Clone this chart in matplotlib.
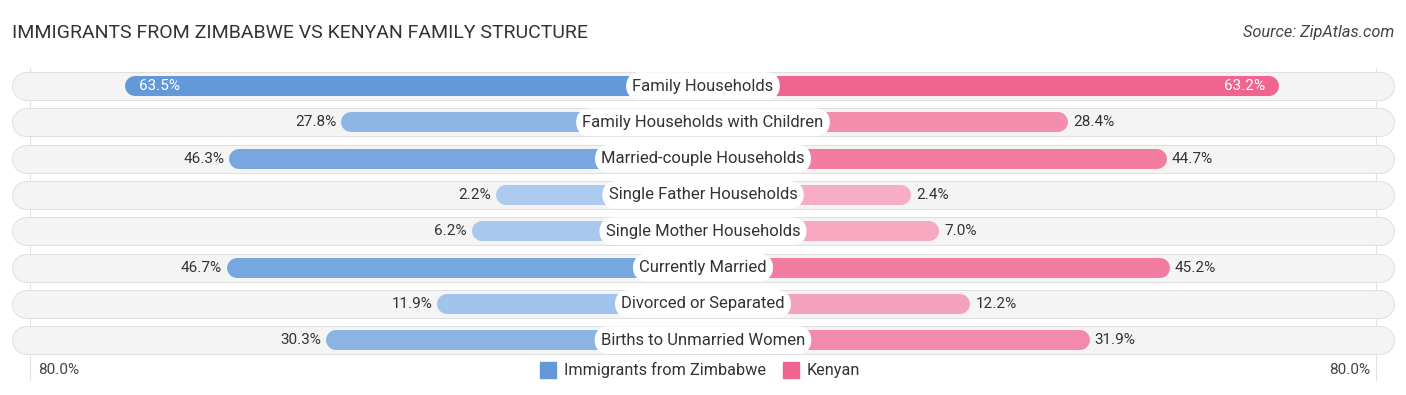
import matplotlib.pyplot as plt
import numpy as np

categories = ["Family Households", "Family Households with Children", "Married-couple Households",
              "Single Father Households", "Single Mother Households", "Currently Married",
              "Divorced or Separated", "Births to Unmarried Women"]
zimbabwe = [63.5, 27.8, 46.3, 2.2, 6.2, 46.7, 11.9, 30.3]
kenyan = [63.2, 28.4, 44.7, 2.4, 7.0, 45.2, 12.2, 31.9]
series_names = ["Immigrants from Zimbabwe", "Kenyan"]
axis_max = 80.0

plt.rcParams['font.family'] = ['Roboto', 'DejaVu Sans']

W, H, DPI = 1406, 395, 100
px = 6.05          # pixels per percent
offset = 32.0      # fixed bar part behind the centre label (in % units)
cx = 703
row0, row_step = 86, 36.3

fig = plt.figure(figsize=(W / DPI, H / DPI), dpi=DPI)
ax = fig.add_axes([0, 0, 1, 1])
ax.set_xlim(-cx / px, (W - cx) / px)
ax.set_ylim((H - row0) / row_step, -row0 / row_step)
ax.axis('off')

pt = 72 / DPI  # points per pixel
rad = 10 / px  # bar cap radius in data units

def mix(c1, c2, t):
    c1 = np.array(plt.matplotlib.colors.to_rgb(c1))
    c2 = np.array(plt.matplotlib.colors.to_rgb(c2))
    return tuple(c1 + (c2 - c1) * t)

blue_dark, blue_light = '#6399d9', '#b0cdef'
pink_dark, pink_light = '#f06590', '#f7b0c6'
vmax = max(max(zimbabwe), max(kenyan))

# faint guide lines at +-80%
for s in (-1, 1):
    ax.plot([s * (axis_max + offset - 0.8)] * 2, [-0.5, 8.1], color='#e2e2e2', lw=0.8, zorder=0)

bg_end = (cx - 12) / px - 14 / px
for i, cat in enumerate(categories):
    # row background pill
    ax.plot([-bg_end, bg_end], [i, i], color='#e0e0e0', lw=29 * pt, solid_capstyle='round', zorder=1)
    ax.plot([-bg_end, bg_end], [i, i], color='#f4f4f4', lw=27 * pt, solid_capstyle='round', zorder=1)

    zl = zimbabwe[i] + offset
    kl = kenyan[i] + offset
    cz = mix(blue_light, blue_dark, zimbabwe[i] / vmax)
    ck = mix(pink_light, pink_dark, kenyan[i] / vmax)
    ax.plot([-zl + rad, 0], [i, i], color=cz, lw=20 * pt, solid_capstyle='round', zorder=2)
    ax.plot([0, kl - rad], [i, i], color=ck, lw=20 * pt, solid_capstyle='round', zorder=2)

    ax.text(0, i, cat, ha='center', va='center', fontsize=12, color='#333333', zorder=4,
            bbox=dict(boxstyle='round,pad=0.38,rounding_size=0.9', fc='white', ec='none'))

    if i == 0:
        ax.text(-zl + 14 / px, i, f"{zimbabwe[i]:.1f}%", ha='left', va='center',
                fontsize=11, color='white', zorder=5)
        ax.text(kl - 14 / px, i, f"{kenyan[i]:.1f}%", ha='right', va='center',
                fontsize=11, color='white', zorder=5)
    else:
        ax.text(-zl - 5 / px, i, f"{zimbabwe[i]:.1f}%", ha='right', va='center',
                fontsize=11, color='#333333', zorder=5)
        ax.text(kl + 5 / px, i, f"{kenyan[i]:.1f}%", ha='left', va='center',
                fontsize=11, color='#333333', zorder=5)

# axis end labels
ybot = (370 - row0) / row_step
ax.text(-(cx - 38) / px, ybot, f"{axis_max:.1f}%", ha='left', va='center', fontsize=11, color='#444444')
ax.text((W - 36 - cx) / px, ybot, f"{axis_max:.1f}%", ha='right', va='center', fontsize=11, color='#444444')

# legend
for x0, name, col in [(540, series_names[0], blue_dark), (783, series_names[1], pink_dark)]:
    ax.add_patch(plt.Rectangle(((x0 - cx) / px, ybot - 8 / row_step), 16 / px, 16 / row_step,
                               color=col, zorder=3))
    ax.text((x0 + 24 - cx) / px, ybot, name, ha='left', va='center', fontsize=11.7, color='#333333')

fig.text(12 / W, 1 - 33 / H, "IMMIGRANTS FROM ZIMBABWE VS KENYAN FAMILY STRUCTURE",
         ha='left', va='center', fontsize=14, color='#333333')
fig.text(1 - 12 / W, 1 - 33 / H, "Source: ZipAtlas.com", ha='right', va='center',
         fontsize=11.8, color='#444444', style='italic')

fig.savefig('out.png', dpi=DPI)
